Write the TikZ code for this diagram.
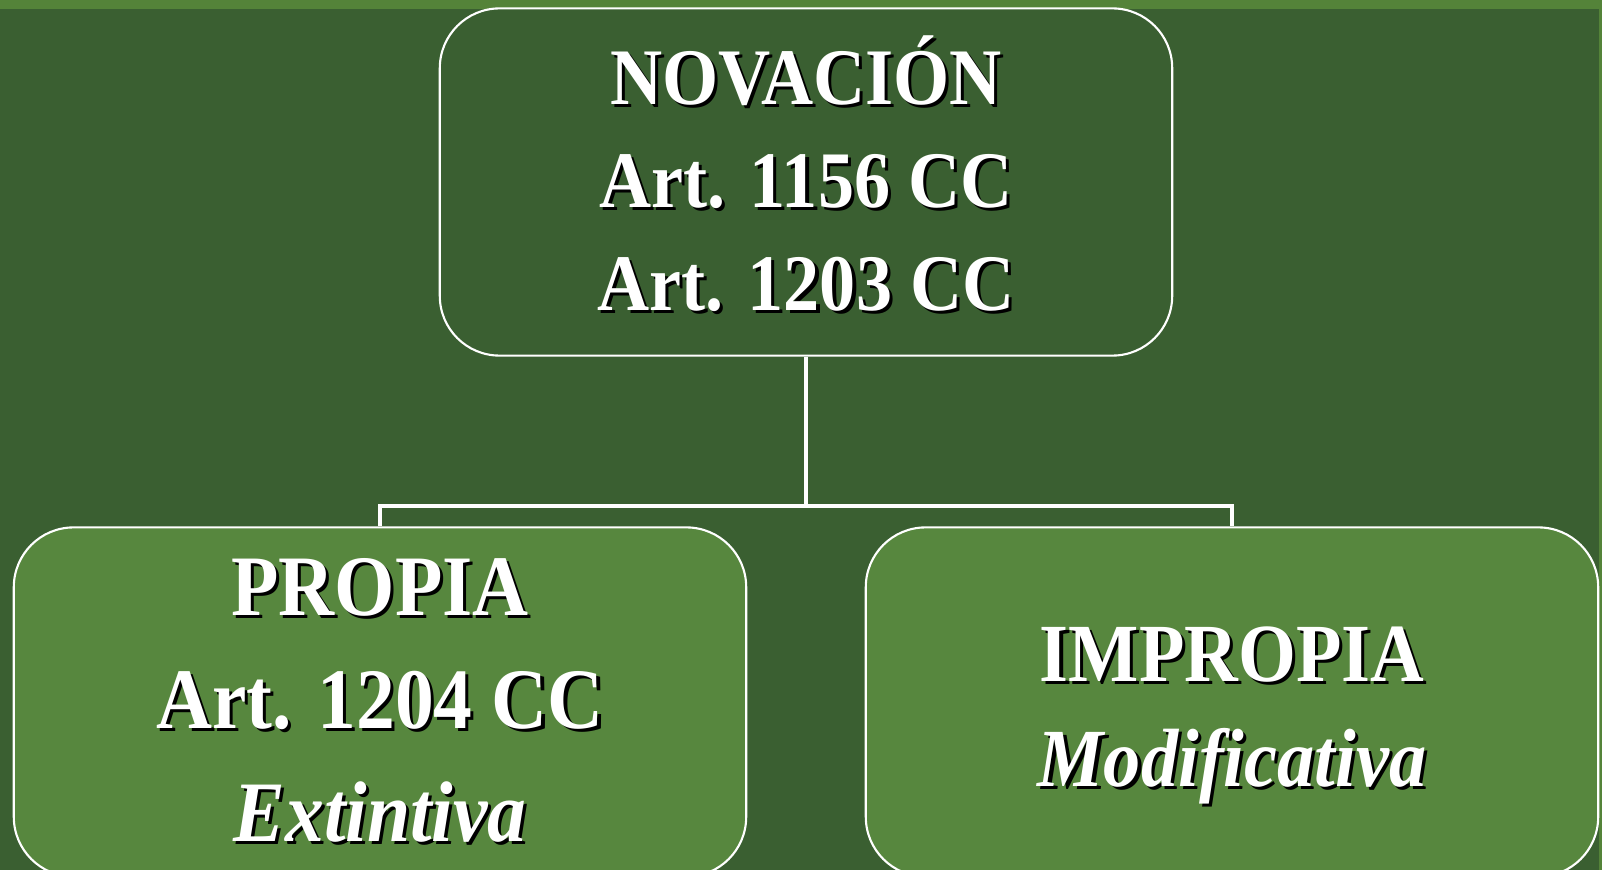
\documentclass[tikz,border=0pt]{standalone}
\usepackage{fontspec}
\setmainfont{Liberation Serif}[FakeStretch=0.9]
\usetikzlibrary{positioning}
\definecolor{fondo}{HTML}{3A5F31}
\definecolor{verde}{HTML}{57873E}
\definecolor{franja}{HTML}{548339}
% white text with a black shadow
\newcommand{\sombra}[1]{\makebox[0pt][l]{\hspace{0.9pt}\raisebox{-0.9pt}{\color{black}#1}}#1}
\tikzset{
caja/.style={draw=white, line width=0.6pt, rounded corners=17pt, minimum width=7.32cm, minimum height=3.47cm, align=center, text=white, font=\bfseries\fontsize{22.8}{29.3}\selectfont}, % top box
hija/.style={caja, fill=verde, minimum height=3.49cm, font=\bfseries\fontsize{24.5}{32.2}\selectfont}, % lower boxes
rama/.style={draw=white, line width=1.1pt}, % connectors
}
\begin{document}
\begin{tikzpicture}[x=0.01cm, y=-0.01cm]
    \clip (0,0) rectangle (1602,870);
    \useasboundingbox (0,0) rectangle (1602,870);
    \fill[franja] (0,0) rectangle (1602,870);
    \fill[fondo] (0,9) rectangle (1599,870);
    \node[caja] at (806,182) (nov) {\sombra{NOVACIÓN}\\ \sombra{Art. 1156 CC}\\ \sombra{Art. 1203 CC}\rule[-5pt]{0pt}{5pt}};
    \node[hija] at (380,702) (pro) {\sombra{PROPIA}\\ \sombra{Art. 1204 CC}\\ \sombra{\textit{Extintiva}}};
    \node[hija, font=\bfseries\fontsize{23.5}{30}\selectfont] at (1232,702) (imp) {\rule{0pt}{24pt}\sombra{IMPROPIA}\\ \sombra{\textit{Modificativa}}};
    \draw[rama] (nov.south) -- ++(0,149) coordinate (cruce);
    \draw[rama] (pro.north) |- (cruce) -| (imp.north);
\end{tikzpicture}
\end{document}
